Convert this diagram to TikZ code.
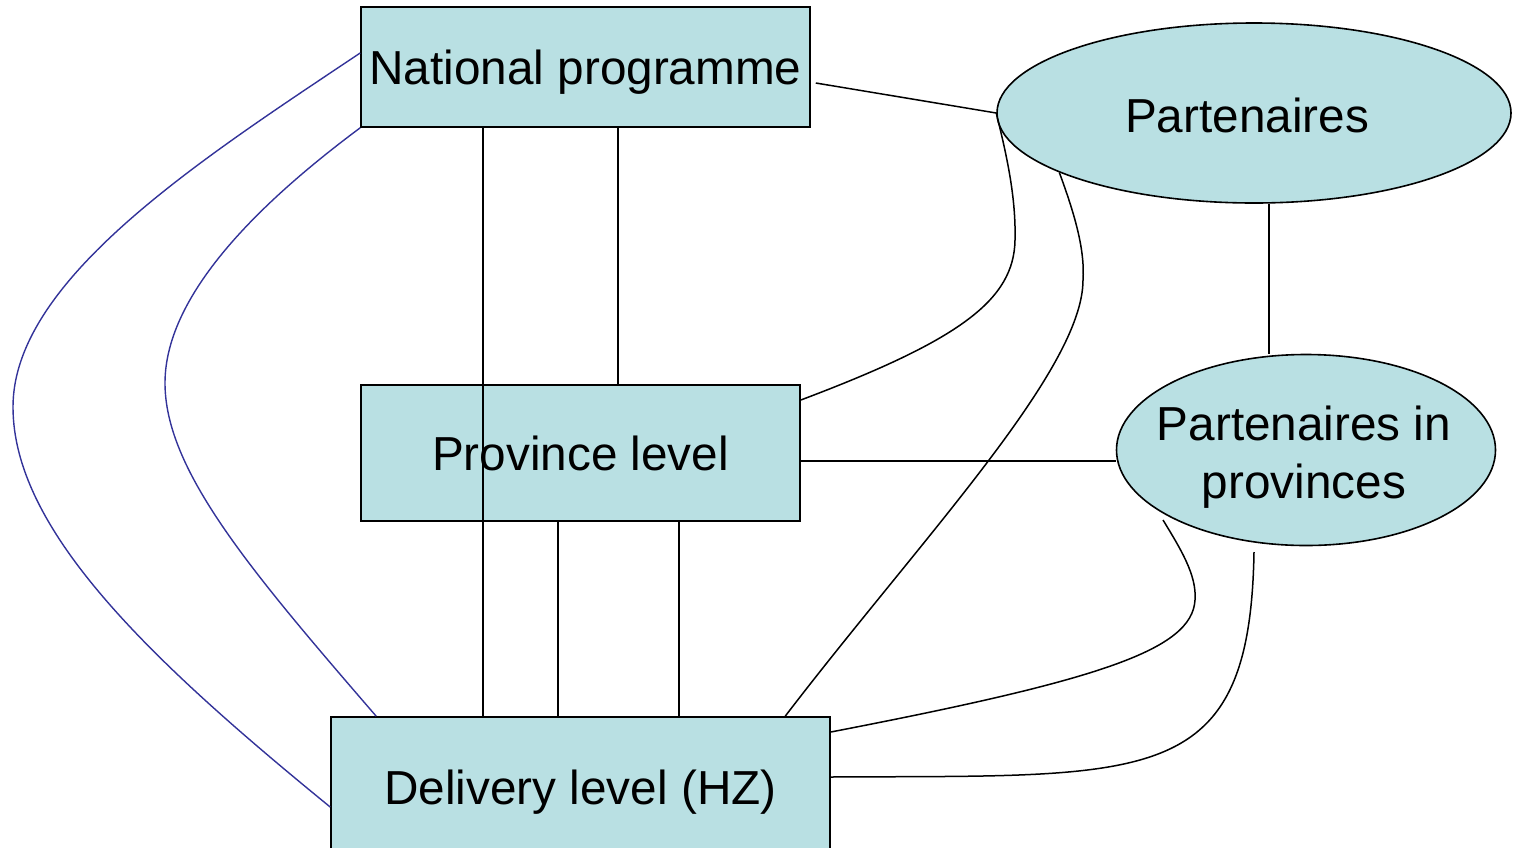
\documentclass[tikz,border=0pt]{standalone}
\usepackage{fontspec}
\setmainfont{Liberation Sans}
\usetikzlibrary{shapes.geometric}
\definecolor{boxfill}{RGB}{185,224,227}
\definecolor{linkblue}{RGB}{51,51,153}
\begin{document}
\begin{tikzpicture}[x=1pt,y=-1pt,
  bigtext/.style={font=\fontsize{47.7}{58}\selectfont},
  levelbox/.style={draw=black, line width=1.6pt, fill=boxfill, inner sep=0pt, text depth=0pt, bigtext},
  partner/.style={ellipse, draw=black, line width=1.6pt, fill=boxfill, inner sep=0pt},
  link/.style={draw=black, line width=1.5pt},
  bluelink/.style={draw=linkblue, line width=1.4pt}]
\useasboundingbox (0,0) rectangle (1514,847);
% nodes
\node[levelbox, minimum width=449pt, minimum height=120pt] (NP) at (585.5,67) {National programme};
\node[levelbox, minimum width=439pt, minimum height=136pt] (Pr) at (580.5,453) {Province level};
\node[levelbox, minimum width=499pt, minimum height=140pt] (D) at (580.5,787) {Delivery level (HZ)};
\node[partner, minimum width=514pt, minimum height=180pt] (P) at (1254,113) {};
\node[bigtext, inner sep=0pt] (Pt) at ([shift={(-7,2)}]P.center) {Partenaires};
\node[partner, minimum width=379pt, minimum height=191pt] (PP) at (1306,450) {};
\node[bigtext, align=center, inner sep=0pt] (PPt) at ([shift={(-2,7)}]PP.center) {Partenaires in\\provinces};
% straight connectors
\draw[link] ([shift={(5,16)}]NP.east) -- (P.west);
\draw[link] ([xshift=-102.5pt]NP.south) -- ([xshift=-102.5pt]NP.south |- D.north);
\draw[link] ([xshift=32.5pt]NP.south) -- ([xshift=32.5pt]NP.south |- Pr.north);
\draw[link] ([xshift=-22.5pt]Pr.south) -- ([xshift=-22.5pt]Pr.south |- D.north);
\draw[link] ([xshift=98.5pt]Pr.south) -- ([xshift=98.5pt]Pr.south |- D.north);
\draw[link] ([yshift=-8pt]Pr.east) -- ([yshift=-8pt]Pr.east -| PP.west);
\draw[link] ([xshift=15pt]P.south) -- ([xshift=15pt]P.south |- PP.north);
% curved connectors
\draw[link] (P.west) .. controls (1008,160) and (1016,200) .. (1015,240)
  .. controls (1014,300) and (960,340) .. ([yshift=53pt]Pr.east);
\draw[link] (P.197) .. controls (1075,215) and (1085,250) .. (1083,280)
  .. controls (1083,370) and (920,540) .. ([xshift=455pt]D.north west);
\draw[link] ([shift={(-143,70)}]PP.center) .. controls (1180,548) and (1197,575) .. (1195,600)
  .. controls (1192,650) and (1100,680) .. ([yshift=55pt]D.east);
\draw[link] ([shift={(-52,102)}]PP.center) .. controls (1250,790) and (1150,775) .. ([yshift=10pt]D.east);
% blue curves
\draw[bluelink] ([yshift=14pt]NP.west) .. controls (200,160) and (13,280) .. (13,407)
  .. controls (13,530) and (150,660) .. ([yshift=-20pt]D.west);
\draw[bluelink] (NP.south west) .. controls (270,195) and (165,290) .. (165,383)
  .. controls (165,470) and (250,570) .. ([xshift=46pt]D.north west);
\end{tikzpicture}
\end{document}
